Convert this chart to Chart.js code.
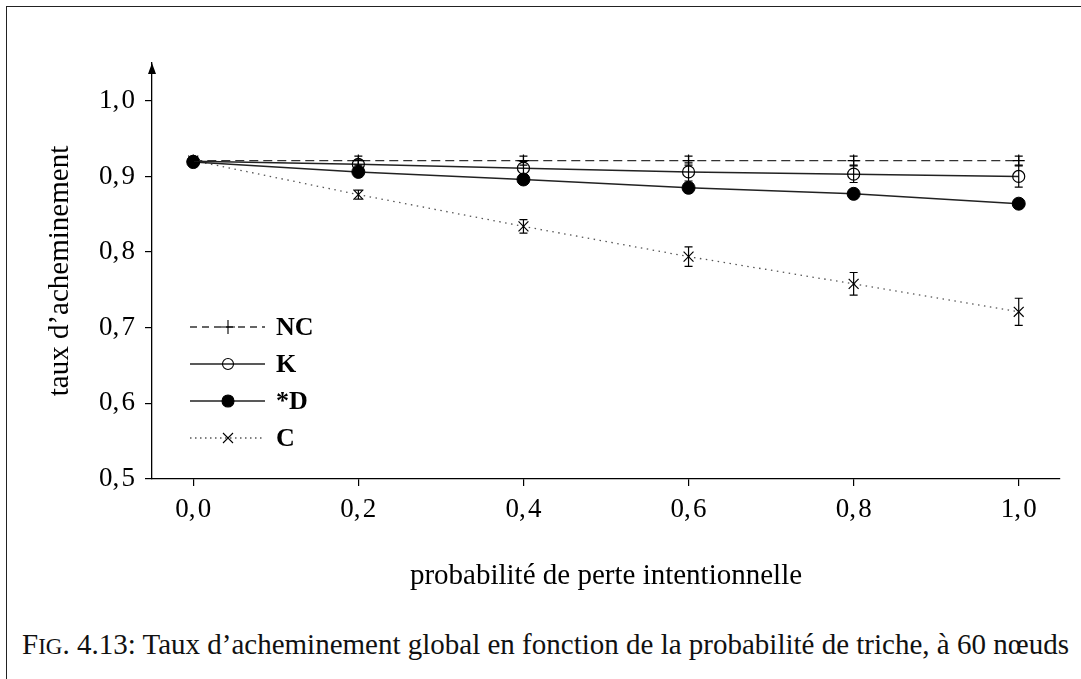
<!DOCTYPE html>
<html lang="fr">
<head>
<meta charset="utf-8">
<script src="https://cdn.jsdelivr.net/npm/chart.js@4.4.1/dist/chart.umd.min.js"></script>
<style>
  body { margin: 0; background: #fff; width: 1081px; height: 679px; overflow: hidden; position: relative; font-family: "Liberation Serif", serif; }
  #cadre { position: absolute; left: 6px; top: 6px; right: 0; bottom: 0; border-top: 1.5px solid #222; border-left: 1.5px solid #222; }
  #zone { position: absolute; left: 0; top: 0; width: 1081px; height: 600px; }
  #legende { position: absolute; left: 22px; top: 630px; font-size: 29px; line-height: 29px; white-space: nowrap; color: #111; }
  .pc { font-size: 23px; }
</style>
</head>
<body>
<div id="cadre"></div>
<div id="zone"><canvas id="graphique"></canvas></div>
<div id="legende">F<span class="pc">IG</span>. 4.13: Taux d’acheminement global en fonction de la probabilité de triche, à 60 nœuds</div>
<script>
// probabilité de perte intentionnelle (axe x)
const probas = [0, 0.2, 0.4, 0.6, 0.8, 1.0];
const nomsSeries = ['NC', 'K', '*D', 'C'];

// taux d'acheminement
const tauxNC = [0.921, 0.921, 0.921, 0.921, 0.921, 0.921];
const tauxK  = [0.920, 0.916, 0.911, 0.906, 0.903, 0.900];
const tauxD  = [0.919, 0.906, 0.896, 0.885, 0.877, 0.864];
const tauxC  = [0.921, 0.876, 0.834, 0.794, 0.758, 0.721];

// demi-largeur des barres d'erreur
const errNC = [0.003, 0.006, 0.006, 0.006, 0.006, 0.006];
const errK  = [0.003, 0.006, 0.009, 0.012, 0.011, 0.014];
const errD  = [0.002, 0.003, 0.003, 0.004, 0.004, 0.005];
const errC  = [0.003, 0.006, 0.009, 0.013, 0.015, 0.018];

const ticksY = [0.5, 0.6, 0.7, 0.8, 0.9, 1.0];

const points = vals => vals.map((v, i) => ({ x: probas[i], y: v }));
const formatVirgule = v => v.toFixed(1).replace('.', ',\u200A');

const police = 'Liberation Serif';

// barres d'erreur
const barresErreur = {
  id: 'barresErreur',
  afterDatasetsDraw(chart) {
    const ctx = chart.ctx;
    const sx = chart.scales.x, sy = chart.scales.y;
    ctx.save();
    ctx.strokeStyle = '#000';
    ctx.lineWidth = 1.2;
    chart.data.datasets.forEach(ds => {
      ds.erreurs.forEach((e, i) => {
        const x = sx.getPixelForValue(probas[i]);
        const y1 = sy.getPixelForValue(ds.data[i].y + e);
        const y2 = sy.getPixelForValue(ds.data[i].y - e);
        ctx.beginPath();
        ctx.moveTo(x, y1); ctx.lineTo(x, y2);
        ctx.moveTo(x - 4, y1); ctx.lineTo(x + 4, y1);
        ctx.moveTo(x - 4, y2); ctx.lineTo(x + 4, y2);
        ctx.stroke();
      });
    });
    ctx.restore();
  }
};

function marqueur(ctx, style, x, y, r, plein) {
  ctx.beginPath();
  if (style === 'circle') {
    ctx.arc(x, y, r, 0, Math.PI * 2);
    if (plein) { ctx.fillStyle = '#000'; ctx.fill(); }
    ctx.stroke();
  } else if (style === 'cross') {
    ctx.moveTo(x - r, y); ctx.lineTo(x + r, y);
    ctx.moveTo(x, y - r); ctx.lineTo(x, y + r);
    ctx.stroke();
  } else {
    ctx.moveTo(x - r, y - r); ctx.lineTo(x + r, y + r);
    ctx.moveTo(x - r, y + r); ctx.lineTo(x + r, y - r);
    ctx.stroke();
  }
}

// flèche de l'axe y et légende dans la zone du graphique
const decor = {
  id: 'decor',
  afterDraw(chart) {
    const ctx = chart.ctx;
    const a = chart.chartArea;
    ctx.save();
    ctx.fillStyle = '#000';
    ctx.beginPath();
    ctx.moveTo(a.left, a.top);
    ctx.lineTo(a.left - 4, a.top + 11);
    ctx.lineTo(a.left + 4, a.top + 11);
    ctx.closePath();
    ctx.fill();

    const x0 = a.left + 38, x1 = a.left + 113, xm = a.left + 76;
    chart.data.datasets.forEach((ds, i) => {
      const y = a.top + 264 + i * 37;
      ctx.strokeStyle = ds.borderColor;
      ctx.lineWidth = ds.borderWidth;
      ctx.setLineDash(ds.legendeTirets || []);
      ctx.beginPath();
      ctx.moveTo(x0, y); ctx.lineTo(x1, y);
      ctx.stroke();
      ctx.setLineDash([]);
      ctx.strokeStyle = '#000';
      ctx.lineWidth = 1.1;
      marqueur(ctx, ds.pointStyle, xm, y, ds.legendeRayon, ds.pointBackgroundColor === '#000');
      ctx.fillStyle = '#000';
      ctx.font = 'bold 26px "' + police + '"';
      ctx.textBaseline = 'middle';
      ctx.textAlign = 'left';
      ctx.fillText(ds.label, a.left + 124, y + 1);
    });
    ctx.restore();
  }
};

new Chart(document.getElementById('graphique'), {
  type: 'line',
  data: {
    datasets: [
      {
        label: nomsSeries[0], data: points(tauxNC), erreurs: errNC,
        borderColor: '#333', borderWidth: 1.3, borderDash: [9, 5], legendeTirets: [7, 5],
        pointStyle: 'cross', pointRadius: 6, pointBorderColor: '#000', pointBorderWidth: 1.2,
        pointBackgroundColor: 'rgba(0,0,0,0)', legendeRayon: 7
      },
      {
        label: nomsSeries[1], data: points(tauxK), erreurs: errK,
        borderColor: '#222', borderWidth: 1.5,
        pointStyle: 'circle', pointRadius: 6, pointBorderColor: '#000', pointBorderWidth: 1.2,
        pointBackgroundColor: 'rgba(0,0,0,0)', legendeRayon: 5.5
      },
      {
        label: nomsSeries[2], data: points(tauxD), erreurs: errD,
        borderColor: '#222', borderWidth: 1.5,
        pointStyle: 'circle', pointRadius: 6.5, pointBorderColor: '#000', pointBorderWidth: 1,
        pointBackgroundColor: '#000', legendeRayon: 6
      },
      {
        label: nomsSeries[3], data: points(tauxC), erreurs: errC,
        borderColor: '#555', borderWidth: 1.3, borderDash: [1.5, 4.5], legendeTirets: [1.5, 3.5],
        pointStyle: 'crossRot', pointRadius: 7, pointBorderColor: '#000', pointBorderWidth: 1.2,
        pointBackgroundColor: 'rgba(0,0,0,0)', legendeRayon: 5
      }
    ]
  },
  options: {
    responsive: true,
    maintainAspectRatio: false,
    animation: false,
    layout: { padding: { left: 0, right: 21, top: 63, bottom: 0 } },
    plugins: { legend: { display: false }, tooltip: { enabled: false } },
    scales: {
      x: {
        type: 'linear', min: -0.05, max: 1.05,
        afterFit: s => { s.height = 121; },
        grid: { drawOnChartArea: false, drawTicks: true, tickLength: 7, color: '#000', lineWidth: 1.2 },
        border: { display: true, color: '#000', width: 1.3 },
        ticks: { stepSize: 0.2, includeBounds: false, padding: 8, color: '#000', maxRotation: 0,
                 font: { family: police, size: 27 }, callback: formatVirgule },
        title: { display: true, text: 'probabilité de perte intentionnelle', color: '#000',
                 font: { family: police, size: 29 }, padding: { top: 0, bottom: 6 } }
      },
      y: {
        type: 'linear', min: 0.5, max: 1.05,
        afterFit: s => { s.width = 152; },
        afterBuildTicks: s => { s.ticks = ticksY.map(v => ({ value: v })); },
        grid: { drawOnChartArea: false, drawTicks: true, tickLength: 7, color: '#000', lineWidth: 1.2 },
        border: { display: true, color: '#000', width: 1.3 },
        ticks: { padding: 10, color: '#000', font: { family: police, size: 27 }, callback: formatVirgule },
        title: { display: true, text: 'taux d’acheminement', color: '#000',
                 font: { family: police, size: 29 }, padding: { top: 43, bottom: 0 } }
      }
    }
  },
  plugins: [barresErreur, decor]
});
</script>
</body>
</html>
